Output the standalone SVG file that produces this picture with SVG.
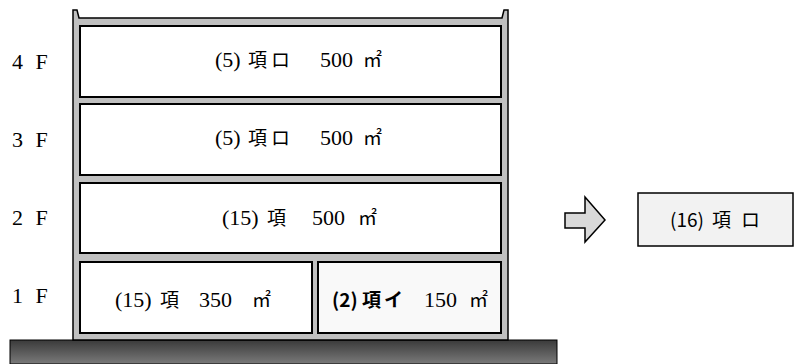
<svg xmlns="http://www.w3.org/2000/svg" width="794" height="364" viewBox="0 0 794 364">
<defs>
<linearGradient id="gnd" x1="0" y1="0" x2="0" y2="1">
<stop offset="0" stop-color="#3a3a3a"/>
<stop offset="1" stop-color="#7a7a7a"/>
</linearGradient>
<style>
.room{fill:#ffffff;stroke:#000;stroke-width:2}
.serif{font-family:"Liberation Serif","Noto Sans CJK JP",serif;font-size:22px;fill:#000}
.cjk{font-family:"Noto Sans CJK JP",sans-serif;font-size:19px}
.goth{font-family:"Noto Sans CJK JP","Liberation Sans",sans-serif;font-size:19px;fill:#000}
.lbl{font-family:"Liberation Serif",serif;font-size:22px;fill:#000;word-spacing:7px}
</style>
</defs>
<rect id="ground" x="10" y="340" width="547" height="24" fill="url(#gnd)" stroke="#000" stroke-width="1"/>
<g id="building">
<polygon points="73,340 73,10 77,10 79,18 502,18 504,10 508,10 508,340" fill="#c0c0c0" stroke="#000" stroke-width="1.5"/>
</g>
<g id="labels">
<text class="lbl" x="12" y="69">4 F</text>
<text class="lbl" x="12" y="147">3 F</text>
<text class="lbl" x="12" y="225">2 F</text>
<text class="lbl" x="12" y="303">1 F</text>
</g>
<g id="room4F">
<rect class="room" x="80" y="26" width="421" height="71"/>
<text class="serif" y="67"><tspan x="215">(5)</tspan><tspan class="cjk" x="248">項</tspan><tspan class="cjk" x="271">ロ </tspan><tspan x="320">500 </tspan><tspan class="cjk" x="363">㎡</tspan></text>
</g>
<g id="room3F">
<rect class="room" x="80" y="104" width="421" height="71"/>
<text class="serif" y="145"><tspan x="215">(5)</tspan><tspan class="cjk" x="248">項</tspan><tspan class="cjk" x="271">ロ </tspan><tspan x="320">500 </tspan><tspan class="cjk" x="363">㎡</tspan></text>
</g>
<g id="room2F">
<rect class="room" x="80" y="183" width="421" height="70"/>
<text class="serif" y="225"><tspan x="222">(15)</tspan><tspan class="cjk" x="267">項 </tspan><tspan x="312">500 </tspan><tspan class="cjk" x="358">㎡</tspan></text>
</g>
<g id="room1F-left">
<rect class="room" x="80" y="262" width="232" height="71"/>
<text class="serif" y="307"><tspan x="115">(15)</tspan><tspan class="cjk" x="160">項 </tspan><tspan x="199">350 </tspan><tspan class="cjk" x="252">㎡</tspan></text>
</g>
<g id="room1F-right">
<rect class="room" x="318" y="262" width="183" height="71" style="fill:#f9f9f9"/>
<text y="307"><tspan class="goth" x="332" font-weight="bold">(2)</tspan><tspan class="goth" x="362" font-weight="bold">項</tspan><tspan class="goth" x="384" font-weight="bold">イ </tspan><tspan class="serif" x="424">150 </tspan><tspan class="serif cjk" x="469">㎡</tspan></text>
</g>
<g id="connectors">
<polygon points="565,213 585,213 585,197 605,220 585,242 585,228 565,228" fill="#d9d9d9" stroke="#000" stroke-width="1.5"/>
</g>
<g id="result">
<rect x="638" y="193" width="155" height="53" fill="#f2f2f2" stroke="#000" stroke-width="1.5"/>
<text class="goth" y="227"><tspan x="670">(16)</tspan><tspan x="712">項</tspan><tspan x="741">ロ</tspan></text>
</g>
</svg>
